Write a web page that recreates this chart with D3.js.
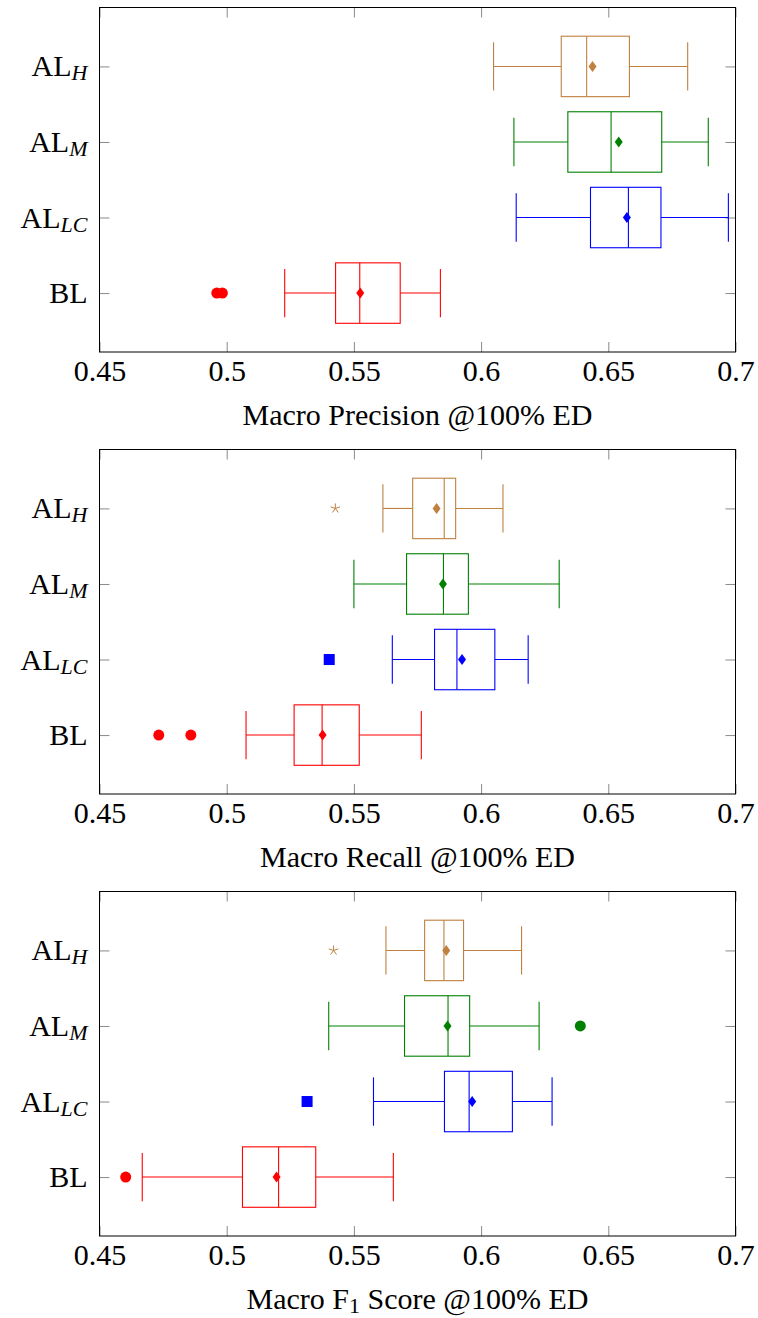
<!DOCTYPE html>
<html>
<head>
<meta charset="utf-8">
<script src="https://cdn.jsdelivr.net/npm/d3@7"></script>
<style>
  body { margin: 0; background: #fff; }
  svg { display: block; font-family: "Liberation Serif", "DejaVu Serif", serif; }
</style>
</head>
<body>
<div id="chart"></div>
<script>
const width = 758;
const height = 1318;

// categories bottom to top, label = main + subscript
const categories = ["BL", "AL_LC", "AL_M", "AL_H"];
const catMain = ["BL", "AL", "AL", "AL"];
const catSub = ["", "LC", "M", "H"];
const colors = ["#ff0000", "#0000ff", "#008000", "#bf8040"];
const outlierMarks = ["circle", "square", "circle", "star"];

const xTicks = [0.45, 0.5, 0.55, 0.6, 0.65, 0.7];

// [lower whisker, lower quartile, median, mean, upper quartile, upper whisker]
const precisionStats = [
  [0.5228, 0.5428, 0.5523, 0.5525, 0.5682, 0.5840],
  [0.6138, 0.6430, 0.6579, 0.6573, 0.6707, 0.6972],
  [0.6129, 0.6341, 0.6511, 0.6541, 0.6710, 0.6893],
  [0.6049, 0.6315, 0.6415, 0.6438, 0.6583, 0.6812]
];
const precisionOutliers = [[0.4961, 0.4983], [], [], []];

const recallStats = [
  [0.5076, 0.5265, 0.5375, 0.5377, 0.5521, 0.5765],
  [0.5651, 0.5817, 0.5905, 0.5925, 0.6054, 0.6185],
  [0.5500, 0.5707, 0.5852, 0.5850, 0.5950, 0.6307],
  [0.5614, 0.5731, 0.5855, 0.5825, 0.5900, 0.6086]
];
const recallOutliers = [[0.4733, 0.4859], [0.5403], [], [0.5427]];

const f1Stats = [
  [0.4668, 0.5062, 0.5204, 0.5196, 0.5350, 0.5655],
  [0.5577, 0.5856, 0.5953, 0.5965, 0.6123, 0.6279],
  [0.5401, 0.5699, 0.5870, 0.5868, 0.5955, 0.6228],
  [0.5626, 0.5778, 0.5854, 0.5863, 0.5931, 0.6159]
];
const f1Outliers = [[0.4603], [0.5316], [0.6390], [0.5420]];

const panels = [
  { top: 7.5, stats: precisionStats, outliers: precisionOutliers, label: ["Macro Precision @100% ED"] },
  { top: 449.5, stats: recallStats, outliers: recallOutliers, label: ["Macro Recall @100% ED"] },
  { top: 891.5, stats: f1Stats, outliers: f1Outliers, label: ["Macro F", "1", " Score @100% ED"] }
];

const left = 99.5;
const plotW = 636;
const plotH = 344.5;
const fontSize = 30;
const subSize = 22;

const svg = d3.select("#chart")
  .append("svg")
  .attr("width", width)
  .attr("height", height);

const x = d3.scaleLinear().domain([0.45, 0.7]).range([0, plotW]);
const y = d3.scaleLinear().domain([0.22, 4.78]).range([plotH, 0]);

const boxHalf = 0.4;
const capHalf = 0.32;

panels.forEach(panel => {
  const g = svg.append("g")
    .attr("transform", `translate(${left},${panel.top})`);

  // ticks on all four sides, pointing inwards
  const tickColor = "#8a8a8a";
  const bottom = g.append("g")
    .attr("transform", `translate(0,${plotH})`)
    .call(d3.axisBottom(x).tickValues(xTicks).tickSize(-10).tickPadding(8).tickFormat(d => String(d)));
  g.append("g")
    .call(d3.axisTop(x).tickValues(xTicks).tickSize(-10).tickFormat(""));
  g.append("g")
    .call(d3.axisLeft(y).tickValues([1, 2, 3, 4]).tickSize(-10).tickFormat(""));
  g.append("g")
    .attr("transform", `translate(${plotW},0)`)
    .call(d3.axisRight(y).tickValues([1, 2, 3, 4]).tickSize(-10).tickFormat(""));

  g.selectAll(".domain").remove();
  g.selectAll(".tick line").attr("stroke", tickColor).attr("stroke-width", 1);
  bottom.selectAll(".tick text")
    .attr("font-family", "Liberation Serif")
    .attr("font-size", fontSize)
    .attr("fill", "#000");

  // y labels
  categories.forEach((c, i) => {
    const t = g.append("text")
      .attr("x", -12)
      .attr("y", y(i + 1) + 10)
      .attr("text-anchor", "end")
      .attr("font-size", fontSize);
    t.append("tspan").text(catMain[i]);
    if (catSub[i]) {
      t.append("tspan")
        .attr("font-style", "italic")
        .attr("font-size", subSize)
        .attr("dy", 4)
        .text(catSub[i]);
    }
  });

  // boxes
  panel.stats.forEach((s, i) => {
    const [lw, q1, med, mean, q3, uw] = s;
    const cy = y(i + 1);
    const col = colors[i];
    const bg = g.append("g").attr("stroke", col).attr("fill", "none").attr("stroke-width", 1.1);

    bg.append("line").attr("x1", x(lw)).attr("x2", x(q1)).attr("y1", cy).attr("y2", cy);
    bg.append("line").attr("x1", x(q3)).attr("x2", x(uw)).attr("y1", cy).attr("y2", cy);
    bg.append("line").attr("x1", x(lw)).attr("x2", x(lw))
      .attr("y1", y(i + 1 + capHalf)).attr("y2", y(i + 1 - capHalf));
    bg.append("line").attr("x1", x(uw)).attr("x2", x(uw))
      .attr("y1", y(i + 1 + capHalf)).attr("y2", y(i + 1 - capHalf));
    bg.append("rect")
      .attr("x", x(q1)).attr("width", x(q3) - x(q1))
      .attr("y", y(i + 1 + boxHalf)).attr("height", y(i + 1 - boxHalf) - y(i + 1 + boxHalf));
    bg.append("line").attr("x1", x(med)).attr("x2", x(med))
      .attr("y1", y(i + 1 + boxHalf)).attr("y2", y(i + 1 - boxHalf));

    // mean diamond
    g.append("path")
      .attr("transform", `translate(${x(mean)},${cy})`)
      .attr("d", "M0,-5.5L4,0L0,5.5L-4,0Z")
      .attr("fill", col);

    // outliers
    panel.outliers[i].forEach(v => {
      const mark = outlierMarks[i];
      if (mark === "circle") {
        g.append("circle").attr("cx", x(v)).attr("cy", cy).attr("r", 5.5).attr("fill", col);
      } else if (mark === "square") {
        g.append("rect").attr("x", x(v) - 5.5).attr("y", cy - 5.5)
          .attr("width", 11).attr("height", 11).attr("fill", col);
      } else {
        const arms = d3.range(5).map(k => {
          const a = -Math.PI / 2 + k * 2 * Math.PI / 5;
          return `M0,0L${5 * Math.cos(a)},${5 * Math.sin(a)}`;
        }).join("");
        g.append("path")
          .attr("transform", `translate(${x(v)},${cy})`)
          .attr("d", arms)
          .attr("stroke", col).attr("stroke-width", 1).attr("fill", "none");
      }
    });
  });

  // frame
  g.append("rect")
    .attr("width", plotW).attr("height", plotH)
    .attr("fill", "none").attr("stroke", "#000").attr("stroke-width", 1);

  // x label
  const xl = g.append("text")
    .attr("x", plotW / 2)
    .attr("y", plotH + 73)
    .attr("text-anchor", "middle")
    .attr("font-size", fontSize);
  xl.append("tspan").text(panel.label[0]);
  if (panel.label.length > 1) {
    xl.append("tspan").attr("font-size", subSize).attr("dy", 4).text(panel.label[1]);
    xl.append("tspan").attr("dy", -4).text(panel.label[2]);
  }
});
</script>
</body>
</html>
